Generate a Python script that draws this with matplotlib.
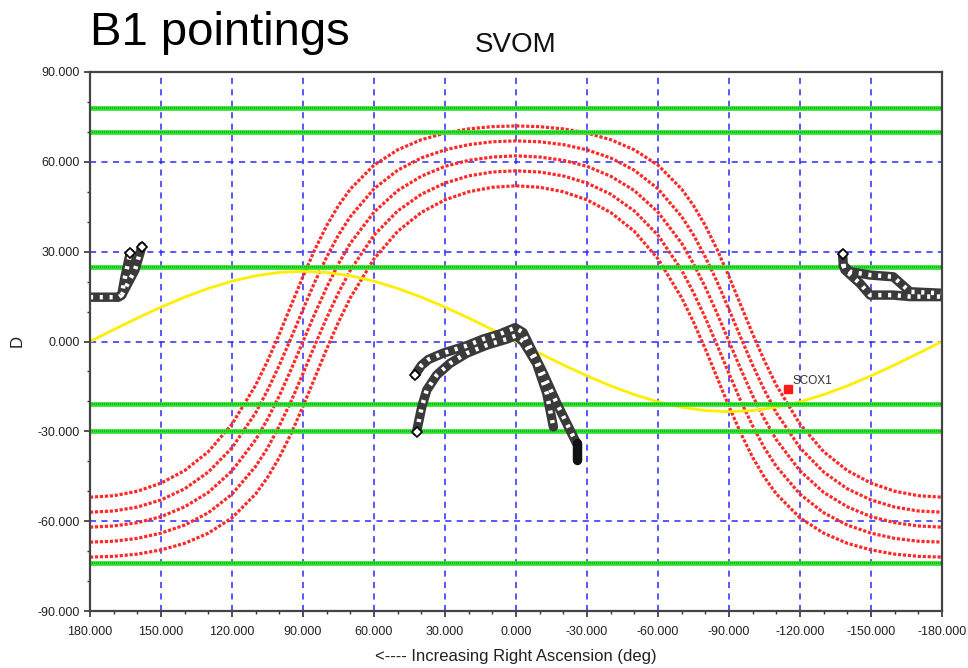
import matplotlib
matplotlib.use("Agg")
import matplotlib.pyplot as plt
from matplotlib.ticker import MultipleLocator, FormatStrFormatter

plt.rcParams['font.family'] = ['Liberation Sans', 'DejaVu Sans']

# Right ascension samples (deg), decreasing to the right
ra = [180, 170, 160, 150, 140, 130, 120, 110, 105, 100, 95, 90, 85, 80, 75, 70,
      60, 50, 40, 30, 20, 10, 0, -10, -20, -30, -40, -50, -60, -70, -75, -80,
      -85, -90, -95, -100, -105, -110, -120, -130, -140, -150, -160, -170, -180]

# Constraint boundaries (declination, deg)
limit_a = [-52, -51.5, -50.0, -47.3, -43.1, -36.8, -27.6, -14.6, -6.5, 2.5, 12.1, 21.7,
           30.7, 38.7, 45.4, 50.9, 58.9, 64.0, 67.4, 69.6, 71.0, 71.75, 72, 71.75, 71.0,
           69.6, 67.4, 64.0, 58.9, 50.9, 45.4, 38.7, 30.7, 21.7, 12.1, 2.5, -6.5, -14.6,
           -27.6, -36.8, -43.1, -47.3, -50.0, -51.5, -52]
limit_b = [-57, -56.6, -55.3, -52.9, -49.2, -43.6, -35.5, -23.8, -16.3, -7.9, 1.25, 10.7,
           19.9, 28.2, 35.6, 41.7, 51.0, 57.2, 61.3, 64.0, 65.75, 66.7, 67, 66.7, 65.75,
           64.0, 61.3, 57.2, 51.0, 41.7, 35.6, 28.2, 19.9, 10.7, 1.25, -7.9, -16.3, -23.8,
           -35.5, -43.6, -49.2, -52.9, -55.3, -56.6, -57]
limit_c = [-62, -61.6, -60.5, -58.5, -55.2, -50.4, -43.2, -32.8, -25.95, -18.1, -9.3, 0,
           9.3, 18.1, 25.95, 32.8, 43.2, 50.4, 55.2, 58.5, 60.5, 61.6, 62, 61.6, 60.5,
           58.5, 55.2, 50.4, 43.2, 32.8, 25.95, 18.1, 9.3, 0, -9.3, -18.1, -25.95, -32.8,
           -43.2, -50.4, -55.2, -58.5, -60.5, -61.6, -62]
limit_d = [-67, -66.7, -65.75, -64.0, -61.3, -57.2, -51.0, -41.7, -35.6, -28.2, -19.9, -10.7,
           -1.25, 7.9, 16.3, 23.8, 35.5, 43.6, 49.2, 52.9, 55.3, 56.6, 57, 56.6, 55.3,
           52.9, 49.2, 43.6, 35.5, 23.8, 16.3, 7.9, -1.25, -10.7, -19.9, -28.2, -35.6, -41.7,
           -51.0, -57.2, -61.3, -64.0, -65.75, -66.7, -67]
limit_e = [-72, -71.75, -71.0, -69.6, -67.4, -64.0, -58.9, -50.9, -45.4, -38.7, -30.7, -21.7,
           -12.1, -2.5, 6.5, 14.6, 27.6, 36.8, 43.1, 47.3, 50.0, 51.5, 52, 51.5, 50.0,
           47.3, 43.1, 36.8, 27.6, 14.6, 6.5, -2.5, -12.1, -21.7, -30.7, -38.7, -45.4, -50.9,
           -58.9, -64.0, -67.4, -69.6, -71.0, -71.75, -72]
limits = [limit_a, limit_b, limit_c, limit_d, limit_e]

# Ecliptic
ecl_ra = [180, 170, 160, 150, 140, 130, 120, 110, 100, 90, 80, 70, 60, 50, 40, 30, 20, 10,
          0, -10, -20, -30, -40, -50, -60, -70, -80, -90, -100, -110, -120, -130, -140,
          -150, -160, -170, -180]
ecl_dec = [0, 3.96, 7.82, 11.47, 14.82, 17.74, 20.15, 21.95, 23.07, 23.44, 23.07, 21.95,
           20.15, 17.74, 14.82, 11.47, 7.82, 3.96, 0, -3.96, -7.82, -11.47, -14.82, -17.74,
           -20.15, -21.95, -23.07, -23.44, -23.07, -21.95, -20.15, -17.74, -14.82, -11.47,
           -7.82, -3.96, 0]

# Declination bands
band_dec = [78, 70, 25, -21, -30, -74]

# B1 pointing tracks (RA, Dec)
track1_ra = [42.7, 40, 37, 30.8, 20.8, 13.9, 6.8, 0.4, -3, -5.9, -11.5, -17.2, -21.4, -25.6]
track1_dec = [-11.2, -8, -6, -3.9, -1.4, 0.8, 2.5, 4.6, 3, -1.7, -10.6, -20.6, -27.3, -34]
track1_end_ra = [-25.6, -25.6]
track1_end_dec = [-34, -39.6]
track2_ra = [42, 39.8, 37.7, 33.5, 27.9, 20.8, 12.4, 3.9, 0, -3, -8.7, -13, -15.8]
track2_dec = [-30.1, -21.8, -16.2, -11.2, -7.3, -3.9, -1.2, 0.8, 2, 0, -7.3, -17.3, -28.5]
track3_ra = [180, 168, 166.6, 165.2, 163]
track3_dec = [14.8, 14.8, 15.5, 21.6, 29.5]
track4_ra = [166.6, 161, 158.1]
track4_dec = [15.5, 23.9, 31.7]
track5_ra = [-138, -138.3, -141.1, -149.6, -159.4, -166.5, -180]
track5_dec = [29.2, 25.5, 23.3, 22.2, 21.6, 16.6, 16.1]
track6_ra = [-138.3, -139, -145.3, -149.6, -159.4, -166.5, -180]
track6_dec = [25.5, 23.9, 19.4, 15.5, 15.5, 15.0, 15.0]

source_ra = [-115.0]
source_dec = [-15.9]
source_name = "SCOX1"

xticks = [180, 150, 120, 90, 60, 30, 0, -30, -60, -90, -120, -150, -180]
yticks = [90, 60, 30, 0, -30, -60, -90]

fig = plt.figure(figsize=(9.68, 6.68), dpi=100)
ax = fig.add_axes([90 / 968, 1 - 611 / 668, 852 / 968, 539 / 668])

ax.set_xlim(180, -180)
ax.set_ylim(-90, 90)

ax.grid(True, which='major', color='#2a2aff', linestyle=(0, (4, 3.5)), linewidth=1.1, zorder=0.5)
ax.set_axisbelow(True)

for dec in limits:
    ax.plot(ra, dec, color='#ff2a2a', linewidth=2.3, linestyle=(0, (1.0, 0.55)), zorder=2)

ax.plot(ecl_ra, ecl_dec, color='#ffee00', linewidth=2.0, zorder=2)

for d in band_dec:
    ax.axhline(d, color='#30e030', linewidth=3.4, zorder=3)
    ax.axhline(d, color='#10b010', linewidth=1.2, linestyle=(0, (0.6, 0.6)), zorder=3.1)


def draw_track(xs, ys):
    ax.plot(xs, ys, color='#3a3a3a', linewidth=6.8, solid_capstyle='round',
            solid_joinstyle='round', zorder=4)
    ax.plot(xs, ys, color='white', linewidth=3.2, linestyle=(0, (0.7, 1.5)),
            dash_capstyle='butt', zorder=4.1)


for xs, ys in [(track1_ra, track1_dec), (track2_ra, track2_dec), (track3_ra, track3_dec),
               (track4_ra, track4_dec), (track5_ra, track5_dec), (track6_ra, track6_dec)]:
    draw_track(xs, ys)

ax.plot(track1_end_ra, track1_end_dec, color='#111111', linewidth=6.8,
        solid_capstyle='round', zorder=4.2)

# Endpoint markers
ends_ra = [track1_ra[0], track2_ra[0], track4_ra[-1], track3_ra[-1], track5_ra[0]]
ends_dec = [track1_dec[0], track2_dec[0], track4_dec[-1], track3_dec[-1], track5_dec[0]]
ax.plot(ends_ra, ends_dec, linestyle='none', marker='D', markersize=5.5,
        markerfacecolor='white', markeredgecolor='black', markeredgewidth=1.2, zorder=5)

ax.plot(source_ra, source_dec, linestyle='none', marker='s', markersize=6,
        color='#ff1a1a', zorder=5)
ax.annotate(source_name, (source_ra[0], source_dec[0]), xytext=(3, 4),
            textcoords='offset points', fontsize=8.5, color='#333333', zorder=6)

ax.set_xticks(xticks)
ax.set_yticks(yticks)
ax.xaxis.set_minor_locator(MultipleLocator(10))
ax.yaxis.set_minor_locator(MultipleLocator(10))
ax.xaxis.set_major_formatter(FormatStrFormatter('%.3f'))
ax.yaxis.set_major_formatter(FormatStrFormatter('%.3f'))
ax.tick_params(which='major', direction='out', length=4.5, width=1.2, color='#333333',
               labelsize=9, labelcolor='#222222')
ax.tick_params(axis='x', which='major', pad=6.5)
ax.tick_params(axis='y', which='major', pad=3)
ax.tick_params(which='minor', direction='out', length=2.5, width=1.0, color='#333333')

for side in ['left', 'right', 'top', 'bottom']:
    ax.spines[side].set_color('#444444')
    ax.spines[side].set_linewidth(1.6)
    ax.spines[side].set_zorder(7)

fig.text(90 / 968, 1 - 45 / 668, "B1 pointings", fontsize=34, ha='left', va='baseline',
         color='black')
fig.text(516 / 968, 1 - 52 / 668, "SVOM", fontsize=20, ha='center', va='baseline',
         color='#111111')
fig.text(17 / 968, 1 - 341 / 668, "D", fontsize=12, rotation=90, ha='center', va='center',
         color='#222222')
fig.text(516 / 968, 1 - 657 / 668, "<---- Increasing Right Ascension (deg)", fontsize=12,
         ha='center', va='center', color='#222222')

fig.savefig("out.png", dpi=100)
